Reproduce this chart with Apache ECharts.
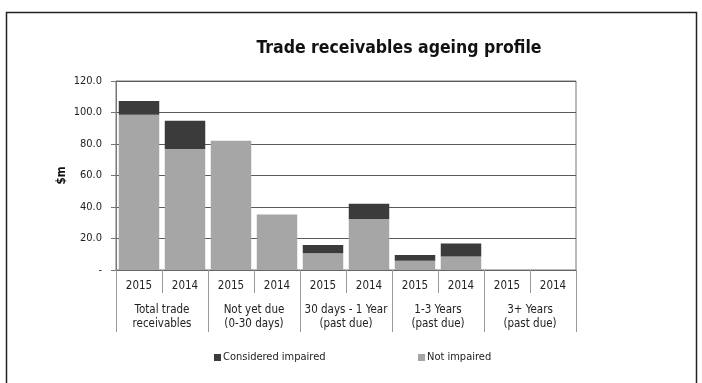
<!DOCTYPE html>
<html><head><meta charset="utf-8">
<script src="https://cdn.jsdelivr.net/npm/echarts@6/dist/echarts.min.js"></script>
<style>html,body{margin:0;padding:0;background:#fff}#c{width:702px;height:383px}</style>
</head><body><div id="c"></div>
<script>
const years = ['2015','2014','2015','2014','2015','2014','2015','2014','2015','2014'];
const groups = ['Total trade\nreceivables','Not yet due\n(0-30 days)','30 days - 1 Year\n(past due)','1-3 Years\n(past due)','3+ Years\n(past due)'];
const notImpaired = [98.6, 76.8, 82.0, 35.3, 10.6, 32.4, 5.9, 8.5, 0, 0];
const impaired = [8.7, 18.0, 0, 0, 5.3, 9.7, 3.6, 8.4, 0, 0];

const FONT = '"Liberation Sans Narrow", "DejaVu Sans Condensed", Lato, sans-serif';
const chart = echarts.init(document.getElementById('c'));
chart.setOption({
  animation: false,
  backgroundColor: '#fff',
  textStyle: {fontFamily: FONT},
  title: {text: 'Trade receivables ageing profile', left: 394, top: 34, textAlign: 'center',
    textStyle: {fontFamily: FONT, fontSize: 17.5, fontWeight: 'bold', color: '#111'}},
  graphic: [{type: 'rect', shape: {x: 6.5, y: 12.5, width: 690, height: 380}, style: {fill: 'none', stroke: '#222', lineWidth: 1.5}, silent: true}],
  legend: [
    {data: ['Considered impaired'], left: 209, top: 347, itemWidth: 7, itemHeight: 7, icon: 'rect',
      textStyle: {fontFamily: FONT, fontSize: 11, color: '#222', padding: [0,0,0,-3]}},
    {data: ['Not impaired'], left: 413, top: 347, itemWidth: 7, itemHeight: 7, icon: 'rect',
      textStyle: {fontFamily: FONT, fontSize: 11, color: '#222', padding: [0,0,0,-3]}}
  ],
  grid: {left: 116, right: 126, top: 81, bottom: 113, show: true, borderColor: '#777', borderWidth: 1},
  xAxis: [
    {type: 'category', data: years, position: 'bottom',
      axisLine: {lineStyle: {color: '#666'}},
      axisTick: {show: true, length: 23, lineStyle: {color: '#999'}},
      axisLabel: {interval: 0, margin: 10, fontFamily: FONT, fontSize: 11.5, color: '#222'}},
    {type: 'category', data: groups, position: 'bottom', offset: 0,
      axisLine: {show: false},
      axisTick: {show: true, interval: 0, length: 62, lineStyle: {color: '#999'}},
      axisLabel: {interval: 0, margin: 33, fontFamily: FONT, fontSize: 11.5, color: '#222', lineHeight: 14}}
  ],
  yAxis: {type: 'value', min: 0, max: 120, interval: 20, name: '$m', nameLocation: 'middle', nameGap: 48, nameRotate: 90,
    nameMoveOverlap: false,
    nameTextStyle: {fontFamily: FONT, fontSize: 11.5, fontWeight: 'bold', color: '#111'},
    axisLine: {show: true, lineStyle: {color: '#777'}},
    axisTick: {show: true, length: 5, lineStyle: {color: '#777'}},
    axisLabel: {margin: 14, fontFamily: FONT, fontSize: 11, color: '#222',
      formatter: v => v === 0 ? '-' : v.toFixed(1)},
    splitLine: {lineStyle: {color: '#5a5a5a'}}},
  series: [
    {name: 'Not impaired', type: 'bar', stack: 's', data: notImpaired, barCategoryGap: '12%', itemStyle: {color: '#a6a6a6'}, xAxisIndex: 0},
    {name: 'Considered impaired', type: 'bar', stack: 's', data: impaired, barCategoryGap: '12%', itemStyle: {color: '#3b3b3b'}, xAxisIndex: 0}
  ]
});
</script></body></html>
